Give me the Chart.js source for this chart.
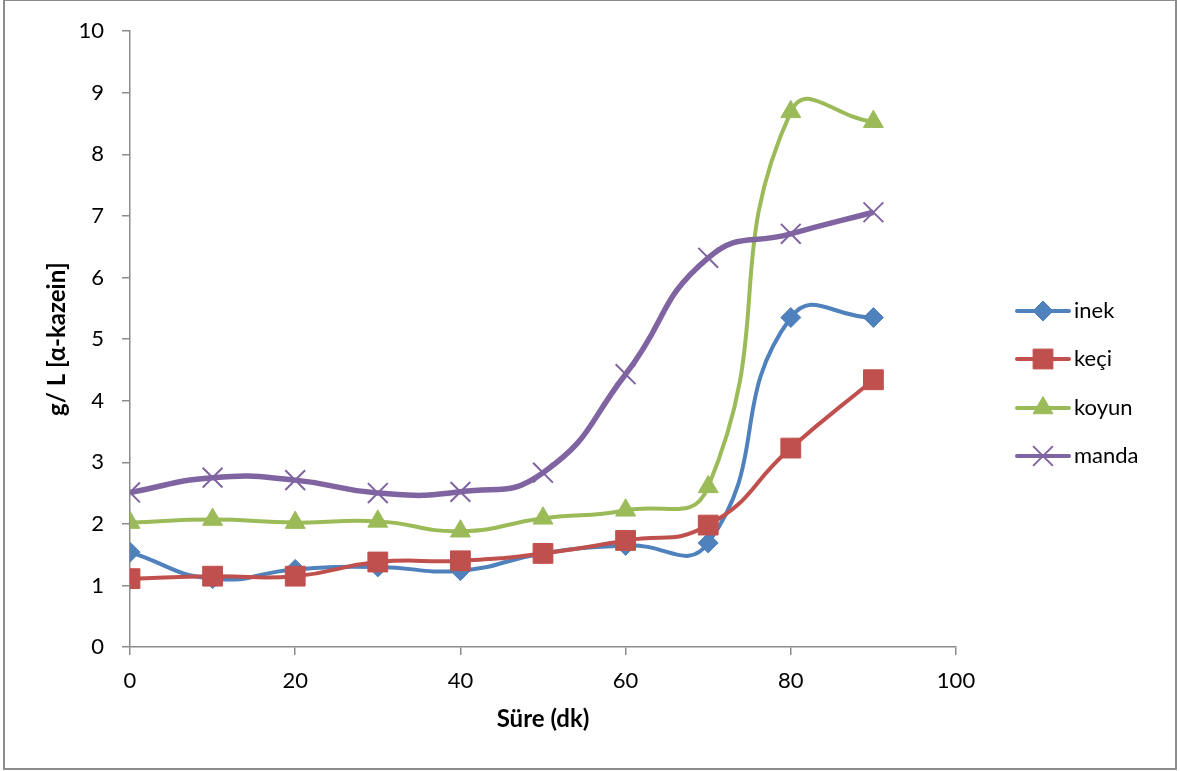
<!DOCTYPE html>
<html>
<head>
<meta charset="utf-8">
<script src="https://cdn.jsdelivr.net/npm/chart.js@4"></script>
<style>
html,body{margin:0;padding:0;background:#fff;}
#wrap{width:1180px;height:771px;position:relative;}
</style>
</head>
<body>
<div id="wrap"><canvas id="c" width="1180" height="771"></canvas></div>
<script>
const minutes = [0, 10, 20, 30, 40, 50, 60, 70, 80, 90];
const inek  = [1.54, 1.11, 1.26, 1.30, 1.24, 1.52, 1.65, 1.69, 5.35, 5.35];
const keci  = [1.11, 1.15, 1.15, 1.38, 1.40, 1.52, 1.73, 1.98, 3.23, 4.34];
const koyun = [2.02, 2.07, 2.02, 2.04, 1.88, 2.09, 2.22, 2.60, 8.69, 8.53];
const manda = [2.51, 2.75, 2.71, 2.50, 2.52, 2.83, 4.43, 6.32, 6.71, 7.06];
const seriesNames = ['inek', 'keçi', 'koyun', 'manda'];
const xTitle = 'Süre (dk)';
const yTitle = 'g/ L [α-kazein]';

const colors = ['#4F81BD', '#C0504D', '#9BBB59', '#8064A2'];
const styles = ['rectRot', 'rect', 'triangle', 'crossRot'];
const radii = [10, 14, 11.5, 14];
const widths = [4, 4, 4, 5.5];
const FONT = 'Lato, "Liberation Sans", sans-serif';

function pts(arr){ return minutes.map((m,i)=>({x:m, y:arr[i]})); }
const allSeries = [inek, keci, koyun, manda];

const datasets = allSeries.map((arr, i) => ({
  label: seriesNames[i],
  data: pts(arr),
  borderColor: colors[i],
  backgroundColor: colors[i],
  borderWidth: widths[i],
  tension: 0.5,
  pointStyle: styles[i],
  pointRadius: radii[i],
  pointHoverRadius: radii[i],
  pointBackgroundColor: colors[i],
  pointBorderColor: colors[i],
  pointBorderWidth: styles[i] === 'crossRot' ? 2 : 1,
  order: 3 - i,
  fill: false
}));

const frame = {
  id: 'frame',
  beforeDraw(chart){
    const ctx = chart.ctx;
    ctx.save();
    ctx.fillStyle = '#fff';
    ctx.fillRect(0,0,chart.width,chart.height);
    ctx.strokeStyle = '#8c8c8c';
    ctx.lineWidth = 2;
    ctx.strokeRect(4, 0, 1172, 769);
    ctx.restore();
  }
};

const legendPlugin = {
  id: 'customLegend',
  afterDraw(chart){
    const ctx = chart.ctx;
    const ys = [311, 359, 408, 456];
    chart.data.datasets.forEach((ds, i) => {
      const y = ys[i];
      ctx.save();
      ctx.strokeStyle = ds.borderColor;
      ctx.lineWidth = 4;
      ctx.lineCap = 'round';
      ctx.beginPath();
      ctx.moveTo(1017, y);
      ctx.lineTo(1069, y);
      ctx.stroke();
      ctx.restore();
      ctx.save();
      ctx.fillStyle = ds.pointBackgroundColor;
      ctx.strokeStyle = ds.pointBorderColor;
      ctx.lineWidth = ds.pointBorderWidth;
      Chart.helpers.drawPoint(ctx, {
        pointStyle: ds.pointStyle,
        radius: ds.pointRadius,
        borderWidth: ds.pointBorderWidth,
        rotation: 0
      }, 1043, y);
      ctx.fillStyle = '#000';
      ctx.font = '22px ' + FONT;
      ctx.textAlign = 'left';
      ctx.textBaseline = 'middle';
      ctx.fillText(ds.label, 1074, y);
      ctx.restore();
    });
  }
};

new Chart(document.getElementById('c'), {
  type: 'line',
  data: { datasets },
  plugins: [frame, legendPlugin],
  options: {
    responsive: false,
    animation: false,
    layout: { padding: { top: 28, right: 224, bottom: 0, left: 0 } },
    plugins: { legend: { display: false }, tooltip: { enabled: false } },
    scales: {
      x: {
        type: 'linear',
        min: 0, max: 100,
        ticks: { stepSize: 20, color: '#000', font: { size: 22, family: FONT }, padding: 13, maxRotation: 0 },
        grid: { drawOnChartArea: false, drawTicks: true, tickLength: 8, color: '#8c8c8c', lineWidth: 1.5 },
        border: { color: '#8c8c8c', width: 1.5 },
        title: { display: true, text: xTitle, color: '#000', font: { size: 24, weight: 'bold', family: FONT }, padding: { top: 0, bottom: 37 } },
        afterFit(scale){ scale.height = 124; }
      },
      y: {
        type: 'linear',
        min: 0, max: 10,
        ticks: { stepSize: 1, color: '#000', font: { size: 22, family: FONT }, padding: 18 },
        grid: { drawOnChartArea: false, drawTicks: true, tickLength: 8, color: '#8c8c8c', lineWidth: 1.5 },
        border: { color: '#8c8c8c', width: 1.5 },
        title: { display: true, text: yTitle, color: '#000', font: { size: 24, weight: 'bold', family: FONT }, padding: { top: 43, bottom: 0 } },
        afterFit(scale){ scale.width = 130; }
      }
    }
  }
});
</script>
</body>
</html>
